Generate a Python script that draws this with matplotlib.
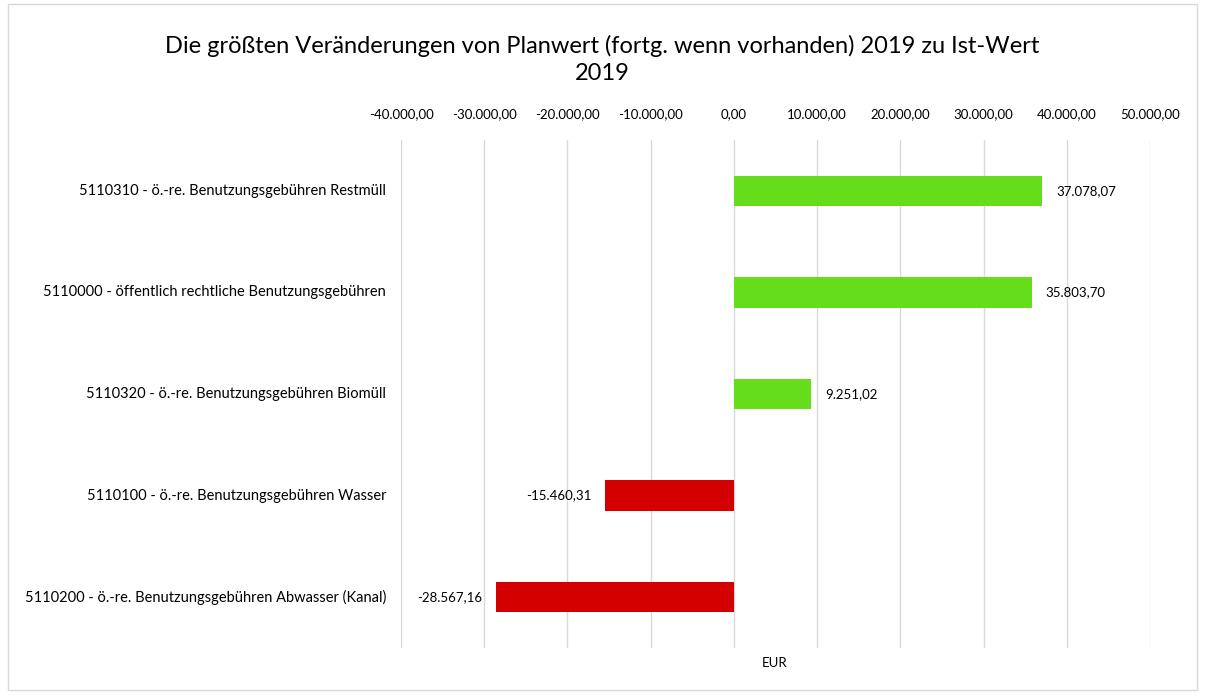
import numpy as np
import matplotlib.pyplot as plt
from matplotlib.patches import Rectangle
from matplotlib.ticker import FuncFormatter

plt.rcParams['font.family'] = ['Lato', 'DejaVu Sans']

# Categories (top to bottom) and their values
categories = [
    "5110310 - ö.-re. Benutzungsgebühren Restmüll",
    "5110000 - öffentlich rechtliche Benutzungsgebühren",
    "5110320 - ö.-re. Benutzungsgebühren Biomüll",
    "5110100 - ö.-re. Benutzungsgebühren Wasser",
    "5110200 - ö.-re. Benutzungsgebühren Abwasser (Kanal)",
]
values = [37078.07, 35803.70, 9251.02, -15460.31, -28567.16]
xticks = [-40000, -30000, -20000, -10000, 0, 10000, 20000, 30000, 40000, 50000]


def de_fmt(v, pos=None):
    s = f"{v:,.2f}"
    return s.replace(",", "X").replace(".", ",").replace("X", ".")


fig = plt.figure(figsize=(12.05, 6.99), dpi=100)
fig.patches.append(Rectangle((8 / 1205, 9 / 699), 1189 / 1205, 686 / 699,
                             transform=fig.transFigure, fill=False,
                             edgecolor='#D9D9D9', linewidth=1))

ax = fig.add_axes([401 / 1205, 51 / 699, 749 / 1205, 508 / 699])

y = np.arange(len(categories))
colors = ['#66DD1A' if v >= 0 else '#D40000' for v in values]
ax.barh(y, values, height=0.3, color=colors, zorder=3)

ax.set_xlim(-40000, 50000)
ax.set_ylim(len(categories) - 0.5, -0.5)
ax.set_xticks(xticks)
ax.xaxis.set_major_formatter(FuncFormatter(de_fmt))
ax.xaxis.tick_top()
ax.tick_params(axis='x', length=0, labelsize=9.5, pad=14)
ax.grid(axis='x', color='#D9D9D9', linewidth=1, zorder=0)
ax.set_yticks([])
for s in ax.spines.values():
    s.set_visible(False)

for yi, v in zip(y, values):
    if v >= 0:
        ax.annotate(de_fmt(v), (v, yi), xytext=(10, 0), textcoords='offset points',
                    ha='left', va='center', fontsize=9.5)
    else:
        ax.annotate(de_fmt(v), (v, yi), xytext=(-10, 0), textcoords='offset points',
                    ha='right', va='center', fontsize=9.5)

for yi, c in zip(y, categories):
    ax.text(-0.02, yi, c, transform=ax.get_yaxis_transform(), ha='right',
            va='center', fontsize=10.5)

fig.text(775 / 1205, 1 - 663 / 699, "EUR", ha='center', va='center', fontsize=9.5)
fig.text(0.5, 1 - 59 / 699,
         "Die größten Veränderungen von Planwert (fortg. wenn vorhanden) 2019 zu Ist-Wert\n2019",
         ha='center', va='center', fontsize=17, linespacing=1.35)

fig.savefig('out.png', dpi=100)
